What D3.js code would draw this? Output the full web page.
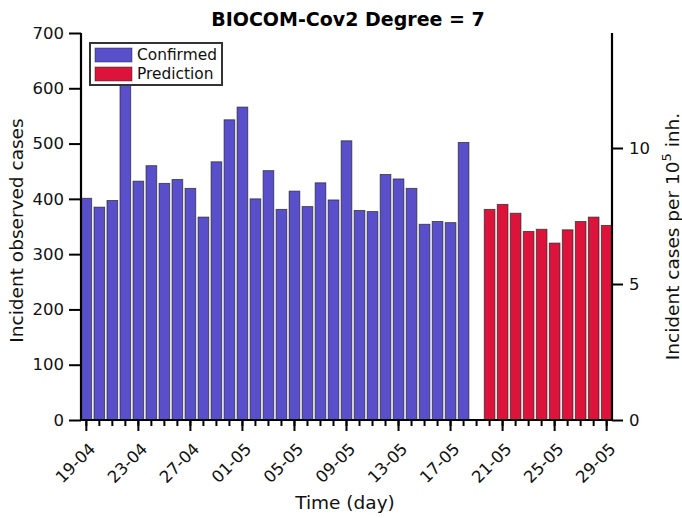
<!DOCTYPE html>
<html>
<head>
<meta charset="utf-8">
<script src="https://cdn.jsdelivr.net/npm/d3@7/dist/d3.min.js"></script>
<style>
  body { margin: 0; background: #fff; }
  svg { display: block; font-family: "DejaVu Sans", sans-serif; }
</style>
</head>
<body>
<svg id="chart" width="682" height="518"></svg>
<script>
// ---- data ----
const days = ["19-04","20-04","21-04","22-04","23-04","24-04","25-04","26-04","27-04","28-04","29-04","30-04",
  "01-05","02-05","03-05","04-05","05-05","06-05","07-05","08-05","09-05","10-05","11-05","12-05","13-05",
  "14-05","15-05","16-05","17-05","18-05","19-05","20-05","21-05","22-05","23-05","24-05","25-05","26-05",
  "27-05","28-05","29-05"];
const confirmedDays = days.slice(0, 30);
const confirmed = [401, 385, 397, 640, 432, 460, 428, 435, 419, 367, 467, 543, 566, 400, 451,
  381, 414, 386, 429, 398, 505, 379, 377, 444, 436, 419, 354, 359, 357, 502];
const predictionDays = days.slice(31);
const prediction = [381, 390, 374, 341, 345, 320, 344, 359, 367, 352];
const majorTicks = ["19-04","23-04","27-04","01-05","05-05","09-05","13-05","17-05","21-05","25-05","29-05"];
const leftTicks = [0, 100, 200, 300, 400, 500, 600, 700];
const rightTicks = [0, 5, 10];
const casesPerUnit = 49.2; // observed cases per 1 case / 10^5 inh.

const title = "BIOCOM-Cov2 Degree = 7";
const colors = { confirmed: "#5a4fcb", prediction: "#dc143c" };

// ---- layout ----
const svg = d3.select("#chart");
const m = { left: 81, right: 612, top: 33, bottom: 420 };
const tickFont = 16.5, labelFont = 18.5;

const x = d3.scaleBand().domain(days).range([m.left, m.right]).paddingInner(0.18).paddingOuter(0.0);
const y = d3.scaleLinear().domain([0, 700]).range([m.bottom, m.top]);
const y2 = d3.scaleLinear().domain([0, 700 / casesPerUnit]).range([m.bottom, m.top]);

// bars
function drawBars(ds, vs, color) {
  svg.append("g").selectAll("rect").data(vs).join("rect")
    .attr("x", (d, i) => x(ds[i]))
    .attr("width", x.bandwidth())
    .attr("y", d => y(d))
    .attr("height", d => y(0) - y(d))
    .attr("fill", color)
    .attr("stroke", "#222")
    .attr("stroke-opacity", 0.75)
    .attr("stroke-width", 0.9);
}
drawBars(confirmedDays, confirmed, colors.confirmed);
drawBars(predictionDays, prediction, colors.prediction);

// left axis
const gl = svg.append("g").attr("transform", `translate(${m.left},0)`)
  .call(d3.axisLeft(y).tickValues(leftTicks).tickSize(12).tickPadding(5));
// right axis
const gr = svg.append("g").attr("transform", `translate(${m.right},0)`)
  .call(d3.axisRight(y2).tickValues(rightTicks).tickSize(11).tickPadding(6));
// bottom axis minor
const gbm = svg.append("g").attr("transform", `translate(0,${m.bottom})`)
  .call(d3.axisBottom(x).tickValues(days).tickSize(6).tickFormat(""));
const gb = svg.append("g").attr("transform", `translate(0,${m.bottom})`)
  .call(d3.axisBottom(x).tickValues(majorTicks).tickSize(11).tickFormat(""));

[gl, gr, gbm, gb].forEach(g => {
  g.select(".domain").attr("stroke", "#000").attr("stroke-width", 2.2);
  g.selectAll(".tick line").attr("stroke", "#000").attr("stroke-width", 2);
  g.selectAll(".tick text").attr("font-family", "DejaVu Sans").attr("font-size", tickFont).attr("fill", "#111");
});
gl.select(".domain").attr("d", `M0,${m.bottom}V${m.top}`);
gr.select(".domain").attr("d", `M0,${m.bottom}V${m.top}`);
gbm.select(".domain").attr("d", `M${m.left},0H${m.right}`);
gb.select(".domain").remove();

// rotated x tick labels
svg.append("g").selectAll("text").data(majorTicks).join("text")
  .attr("transform", d => `translate(${x(d) + x.bandwidth() / 2 + 10},450) rotate(-45)`)
  .attr("text-anchor", "end")
  .attr("font-size", tickFont)
  .attr("fill", "#111")
  .text(d => d);

// titles
svg.append("text").attr("x", 348).attr("y", 26).attr("text-anchor", "middle")
  .attr("font-weight", "bold").attr("font-size", 19).text(title);
svg.append("text").attr("x", 345).attr("y", 509).attr("text-anchor", "middle")
  .attr("font-size", labelFont).attr("fill", "#111").text("Time (day)");
svg.append("text").attr("transform", `translate(23,${(m.top + m.bottom) / 2 + 4}) rotate(-90)`)
  .attr("text-anchor", "middle").attr("font-size", labelFont).attr("fill", "#111").text("Incident observed cases");
const rl = svg.append("text").attr("transform", `translate(679,${(m.top + m.bottom) / 2 + 10}) rotate(-90)`)
  .attr("text-anchor", "middle").attr("font-size", labelFont).attr("fill", "#111");
rl.append("tspan").text("Incident cases per 10");
rl.append("tspan").attr("dy", -8).attr("font-size", 13).text("5");
rl.append("tspan").attr("dy", 8).text(" inh.");

// legend
const lg = svg.append("g").attr("transform", "translate(90,43)");
lg.append("rect").attr("width", 132).attr("height", 42).attr("fill", "#fff")
  .attr("stroke", "#333").attr("stroke-width", 2);
const items = [["Confirmed", colors.confirmed], ["Prediction", colors.prediction]];
items.forEach(([label, c], i) => {
  lg.append("rect").attr("x", 5).attr("y", 5 + i * 19).attr("width", 37).attr("height", 14)
    .attr("fill", c).attr("stroke", "#222").attr("stroke-opacity", 0.6).attr("stroke-width", 0.8);
  lg.append("text").attr("x", 47).attr("y", 17 + i * 19).attr("font-size", 15.4).attr("fill", "#111").text(label);
});
</script>
</body>
</html>
